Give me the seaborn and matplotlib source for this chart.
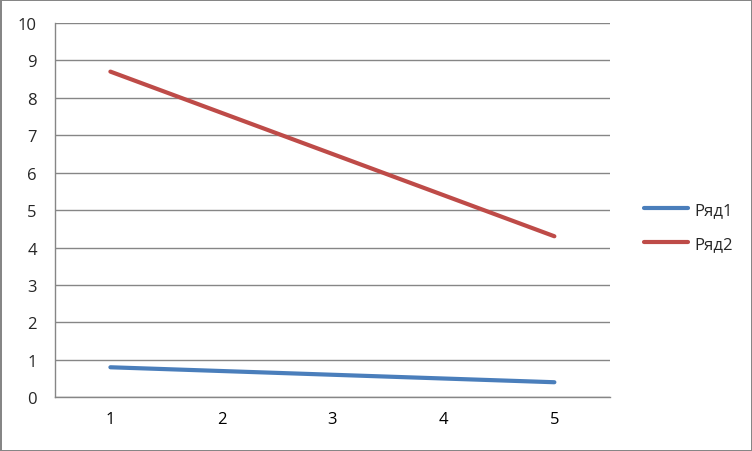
import pandas as pd
import seaborn as sns
import matplotlib.pyplot as plt
import numpy as np

# data
x_vals = [1, 2, 3, 4, 5]
row1 = [0.8, 0.7, 0.6, 0.5, 0.4]
row2 = [8.7, 7.6, 6.5, 5.4, 4.3]
names = ["Ряд1", "Ряд2"]
y_ticks = list(range(0, 11))

df = pd.DataFrame({
    "x": x_vals * 2,
    "y": row1 + row2,
    "s": [names[0]] * 5 + [names[1]] * 5,
})

sns.set_style("white")
plt.rcParams['font.family'] = ['Open Sans', 'DejaVu Sans']

grid_col = "#868686"
fig = plt.figure(figsize=(7.52, 4.52), dpi=100)
fig.patch.set_edgecolor(grid_col)
fig.patch.set_linewidth(2)
ax = fig.add_axes([0.073, 0.119, 0.738, 0.828])

sns.lineplot(data=df, x="x", y="y", hue="s", ax=ax,
             palette=["#4A7EBB", "#BE4B48"], linewidth=3,
             solid_capstyle="round", legend=True)

ax.set_xlim(0.5, 5.5)
ax.set_ylim(0, 10)
ax.set_yticks(y_ticks)
ax.set_xticks(x_vals)
ax.set_xticks([0.5, 1.5, 2.5, 3.5, 4.5, 5.5], minor=True)
ax.tick_params(axis="x", which="major", length=0, pad=10, labelsize=12, colors="black")
ax.tick_params(axis="x", which="minor", length=5, width=1, color=grid_col, direction="out")
ax.tick_params(axis="y", length=5, width=1, color=grid_col, direction="out", pad=8, labelsize=12)
ax.yaxis.grid(True, color=grid_col, linewidth=1)
for side in ["top", "right"]:
    ax.spines[side].set_visible(False)
for side in ["left", "bottom"]:
    ax.spines[side].set_color(grid_col)
    ax.spines[side].set_linewidth(1)
ax.set_xlabel("")
ax.set_ylabel("")

leg = ax.legend(loc="center left", bbox_to_anchor=(1.035, 0.455), frameon=False,
                fontsize=12, handlelength=2.6, handletextpad=0.4, labelspacing=1.1)
for line in leg.get_lines():
    line.set_linewidth(3)

fig.savefig("out.png", dpi=100, edgecolor=fig.get_edgecolor())
